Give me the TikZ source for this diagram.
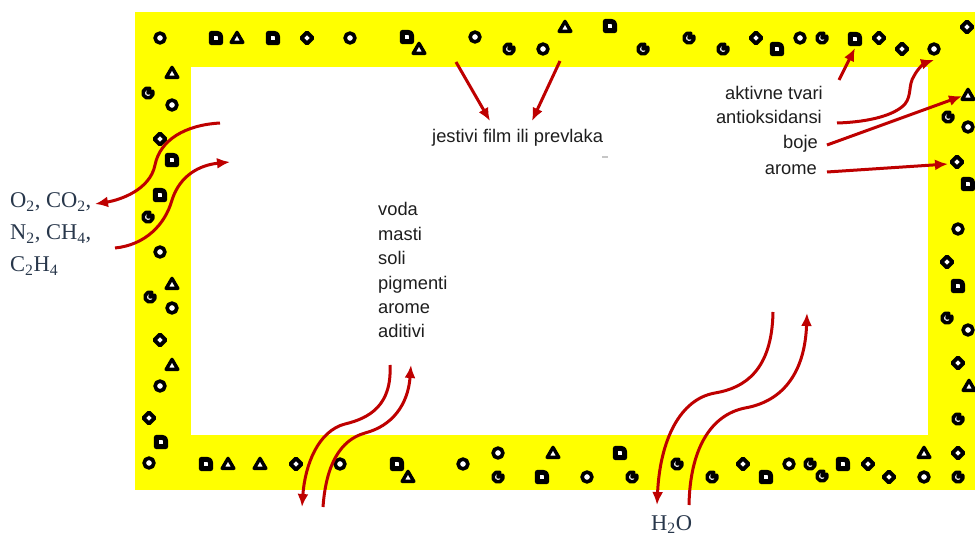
\documentclass[tikz,border=0pt]{standalone}
\usepackage{fontspec}
\setmainfont{Liberation Sans}
\newfontfamily\serifgas{Liberation Serif}
\usetikzlibrary{arrows.meta}

\definecolor{filmyellow}{RGB}{255,255,0}
\definecolor{flowred}{RGB}{190,0,0}
\definecolor{gasblue}{RGB}{40,55,75}
\definecolor{labelgrey}{RGB}{30,30,30}

\tikzset{
  flow/.style={draw=flowred, line width=3pt, -{Latex[length=13pt,width=11pt]}},
  particle/.style={draw=black, fill=white, line join=round},
  ring/.pic={\draw[particle, line width=3.6pt] (0,0) circle (4.9);},
  tri/.pic={\draw[particle, line width=3.4pt] (0,-5.6) -- (5.8,4.4) -- (-5.8,4.4) -- cycle;},
  blob/.pic={\draw[particle, line width=5pt] (-4.6,4.6) -- (-4.6,-4.6) -- (1,-4.6)
      .. controls (3.6,-4.6) and (4.6,-3.6) .. (4.6,-1) -- (4.6,4.6) -- cycle;},
  gem/.pic={\draw[particle, line width=3.8pt] (0,-5.6) -- (5.6,0) -- (0,5.6) -- (-5.6,0) -- cycle;},
  bite/.pic={\draw[particle, line width=3.6pt] (0,0) -- (-70:5)
      arc[start angle=-70, end angle=-380, radius=5] -- cycle;},
  lbl/.style={font=\fontsize{18.3}{22}\selectfont, text=labelgrey, inner sep=0pt},
  gas/.style={font=\serifgas\fontsize{22.5}{26}\selectfont, text=gasblue, inner sep=0pt},
}

\begin{document}
\begin{tikzpicture}[x=1pt, y=-1pt]
\useasboundingbox (0,0) rectangle (975,537);
\fill[white] (0,0) rectangle (975,537);

% edible coating: yellow band around the food
\fill[filmyellow] (135,12) rectangle (975,490);
\fill[white] (191,67) rectangle (928,435);

% particles embedded in the coating
\foreach \x/\y in {160/38,350/38,475/37,543/49,800/38,934/49,968/127,172/105,160/252,
  172/308,160/386,149/463,340/464,463/464,498/453,587/477,789/464,924/477,958/229,968/330}
  \pic at (\x,\y) {ring};
\foreach \x/\y in {237/38,419/49,565/27,968/95,172/73,172/284,172/365,228/464,260/464,
  408/477,553/453,924/453,969/386}
  \pic at (\x,\y) {tri};
\foreach \x/\y in {216/38,273/38,407/37,610/26,777/49,855/39,968/184,172/160,160/195,
  161/442,206/464,397/464,542/477,620/453,766/477,843/464,958/286}
  \pic at (\x,\y) {blob};
\foreach \x/\y in {307/38,756/38,879/38,902/49,967/27,957/162,160/139,160/340,149/418,
  296/464,743/464,868/464,889/477,958/453,947/262,958/363}
  \pic at (\x,\y) {gem};
\foreach \x/\y in {509/49,643/49,689/38,723/49,822/38,948/117,148/93,148/217,150/297,
  498/477,632/477,677/464,712/477,810/464,822/476,958/477,958/419,947/318}
  \pic at (\x,\y) {bite};

\fill[gray!45] (602,156) rectangle (608,158);

% labels
\node[lbl, anchor=base west] (film) at (432,143) {jestivi film ili prevlaka};
\foreach \t [count=\i] in {voda,masti,soli,pigmenti,arome,aditivi}
  \node[lbl, anchor=base west] (comp\i) at (378,{216+24.4*(\i-1)}) {\t};
\node[lbl, anchor=base east] (active) at (823,100) {aktivne tvari};
\node[lbl, anchor=base east] (antiox) at (822,124) {antioksidansi};
\node[lbl, anchor=base east] (colour) at (818,149) {boje};
\node[lbl, anchor=base east] (aroma) at (817,175) {arome};
\node[gas, anchor=base west] (gas1) at (10,208) {O\textsubscript{2}, CO\textsubscript{2},};
\node[gas, anchor=base west] (gas2) at (10,240) {N\textsubscript{2}, CH\textsubscript{4},};
\node[gas, anchor=base west] (gas3) at (10,272) {C\textsubscript{2}H\textsubscript{4}};
\node[gas, anchor=base west] (water) at (651,530) {H\textsubscript{2}O};

% arrow end points
\coordinate (filmA) at (456,62);  \coordinate (filmAe) at (490,121);
\coordinate (filmB) at (560,61);  \coordinate (filmBe) at (532,121);
\coordinate (gasOut) at (220,123); \coordinate (gasOute) at (95,204);
\coordinate (gasIn) at (115,248);  \coordinate (gasIne) at (230,162);
\coordinate (compOut) at (390,365); \coordinate (compOute) at (302,507);
\coordinate (compIn) at (323,507);  \coordinate (compIne) at (411,365);
\coordinate (wOut) at (773,312); \coordinate (wOute) at (657,505);
\coordinate (wIn) at (689,505);  \coordinate (wIne) at (807,313);
\coordinate (actS) at (839,80);  \coordinate (actE) at (855,48);
\coordinate (antS) at (837,123); \coordinate (antE) at (934,60);
\coordinate (colS) at (827,145); \coordinate (colE) at (962,96);
\coordinate (aroS) at (827,172); \coordinate (aroE) at (948,164);

% migration arrows
\draw[flow] (filmA) -- (filmAe);
\draw[flow] (filmB) -- (filmBe);
\draw[flow] (gasOut) .. controls (185,125) and (160,140) .. (155,165)
  .. controls (150,190) and (120,200) .. (gasOute);
\draw[flow] (gasIn) .. controls (145,245) and (165,225) .. (172,200)
  .. controls (180,175) and (200,165) .. (gasIne);
\draw[flow] (compOut) .. controls (392,405) and (370,418) .. (345,424)
  .. controls (318,431) and (305,465) .. (compOute);
\draw[flow] (compIn) .. controls (326,465) and (340,440) .. (365,433)
  .. controls (392,426) and (408,405) .. (compIne);
\draw[flow] (wOut) .. controls (772,370) and (745,388) .. (715,393)
  .. controls (680,399) and (660,440) .. (wOute);
\draw[flow] (wIn) .. controls (690,450) and (710,415) .. (745,408)
  .. controls (785,401) and (805,370) .. (wIne);
\draw[flow] (actS) -- (actE);
\draw[flow] (antS) .. controls (870,122) and (895,115) .. (905,104)
  .. controls (912,95) and (908,85) .. (914,76)
  .. controls (918,68) and (925,63) .. (antE);
\draw[flow] (colS) -- (colE);
\draw[flow] (aroS) -- (aroE);
\end{tikzpicture}
\end{document}
